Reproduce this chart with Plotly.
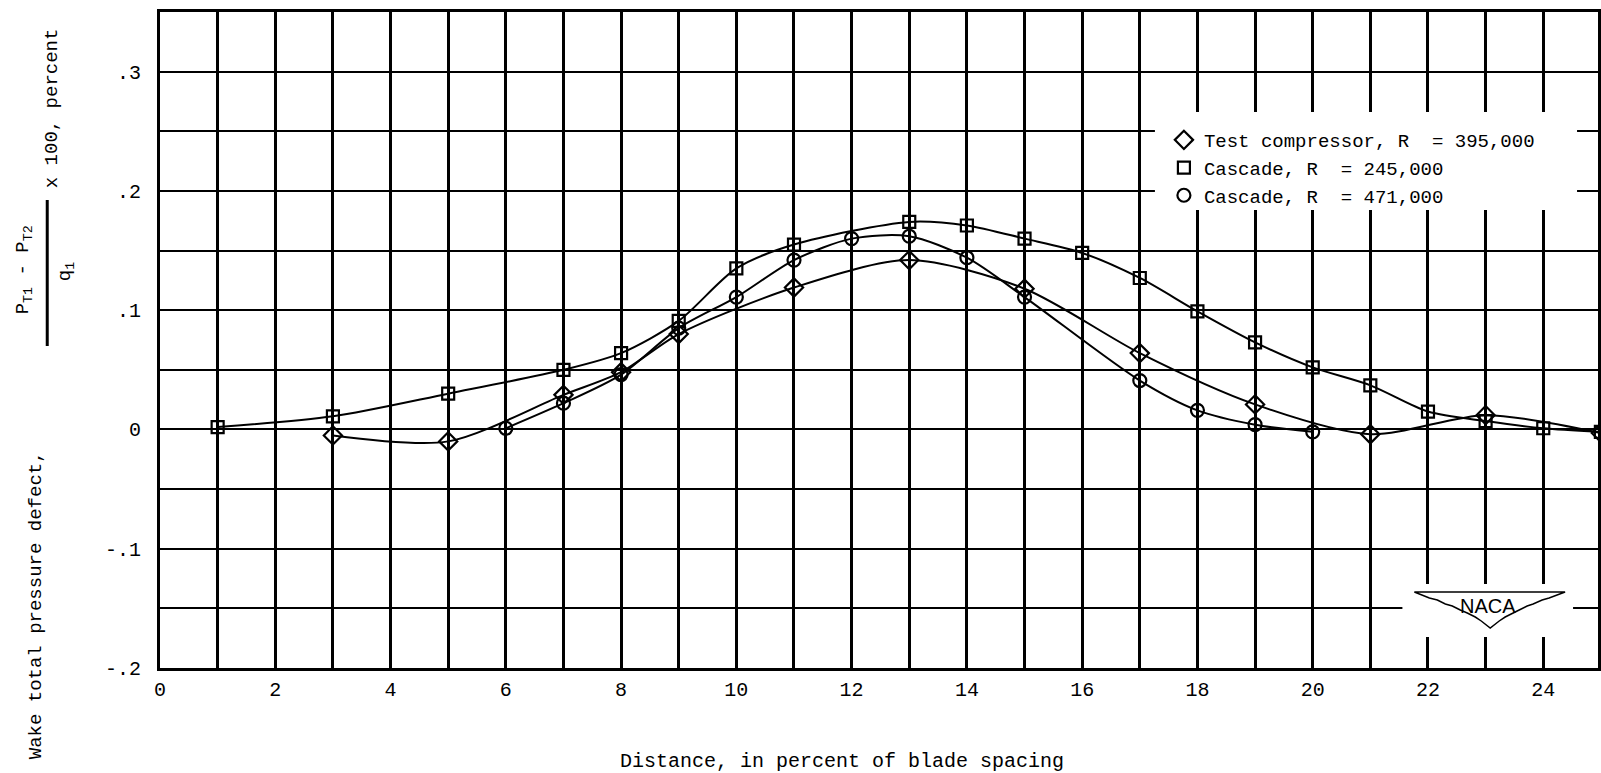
import plotly.graph_objects as go

# ---- data ----
test_x = [3, 5, 7, 8, 9, 11, 13, 15, 17, 19, 21, 23, 25]
test_y = [-0.005, -0.010, 0.029, 0.048, 0.080, 0.119, 0.142, 0.118, 0.064, 0.021, -0.004, 0.012, -0.003]

c245_x = [1, 3, 5, 7, 8, 9, 10, 11, 13, 14, 15, 16, 17, 18, 19, 20, 21, 22, 23, 24, 25]
c245_y = [0.002, 0.011, 0.030, 0.050, 0.064, 0.091, 0.135, 0.155, 0.174, 0.171, 0.160, 0.148,
          0.127, 0.099, 0.073, 0.052, 0.037, 0.015, 0.007, 0.001, -0.002]

c471_x = [6, 7, 8, 9, 10, 11, 12, 13, 14, 15, 17, 18, 19, 20]
c471_y = [0.001, 0.022, 0.046, 0.085, 0.111, 0.142, 0.160, 0.162, 0.144, 0.111, 0.041, 0.016, 0.004, -0.002]

x_tickvals = [0, 2, 4, 6, 8, 10, 12, 14, 16, 18, 20, 22, 24]
x_ticktext = ["0", "2", "4", "6", "8", "10", "12", "14", "16", "18", "20", "22", "24"]
y_tickvals = [-0.2, -0.1, 0, 0.1, 0.2, 0.3]
y_ticktext = ["-.2", "-.1", "0", ".1", ".2", ".3"]

names = ["Test compressor, R  = 395,000", "Cascade, R  = 245,000", "Cascade, R  = 471,000"]

FONT = "Liberation Mono"
W, H = 1601, 773
ML, MR, MT, MB = 160, 0, 12, 105
PW, PH = W - ML - MR, H - MT - MB


def px(xp):
    return (xp - ML) / PW


def py(yp):
    return (H - MB - yp) / PH


fig = go.Figure()
series = [(test_x, test_y, "diamond-open", 14), (c245_x, c245_y, "square-open", 12), (c471_x, c471_y, "circle-open", 13)]
for (xs, ys, sym, sz), nm in zip(series, names):
    fig.add_trace(go.Scatter(
        x=xs, y=ys, mode="lines+markers", name=nm, showlegend=False,
        line=dict(color="black", width=2, shape="spline", smoothing=0.8),
        marker=dict(symbol=sym, size=sz, color="black", line=dict(color="black", width=2.2)),
    ))
# legend entries (markers only, as in the reference key)
for (xs, ys, sym, sz), nm in zip(series, names):
    fig.add_trace(go.Scatter(
        x=[None], y=[None], mode="markers", name=nm, showlegend=True,
        marker=dict(symbol=sym, size=sz, color="black", line=dict(color="black", width=2.2)),
    ))

shapes = []
# white box behind legend
shapes.append(dict(type="rect", xref="paper", yref="paper", x0=px(1157), x1=px(1580), y0=py(210), y1=py(112),
                   fillcolor="white", line=dict(width=0), layer="above"))
# white box behind NACA logo
shapes.append(dict(type="rect", xref="paper", yref="paper", x0=px(1405), x1=px(1576), y0=py(637), y1=py(584),
                   fillcolor="white", line=dict(width=0), layer="above"))
# NACA wing outline
pts = [(1417, 592), (1568, 592), (1552, 598), (1545, 600), (1536, 604), (1530, 606), (1522, 610),
       (1516, 613), (1508, 617), (1502, 621), (1493, 628),
       (1484, 621), (1478, 617), (1470, 613), (1463, 610), (1455, 606), (1448, 604), (1440, 600), (1432, 598)]
path = "M " + " L ".join(f"{px(a):.5f},{py(b):.5f}" for a, b in pts) + " Z"
shapes.append(dict(type="path", xref="paper", yref="paper", path=path, fillcolor="white",
                   line=dict(color="black", width=1.5), layer="above"))
# fraction bar of y-axis title
shapes.append(dict(type="line", xref="paper", yref="paper", x0=px(47), x1=px(47), y0=py(200), y1=py(346),
                   line=dict(color="black", width=3)))

ann = [
    dict(text="Wake total pressure defect,", x=px(36), y=py(605), textangle=-90, font=dict(size=19)),
    dict(text="P<sub>T1</sub> - P<sub>T2</sub>", x=px(24), y=py(270), textangle=-90, font=dict(size=19)),
    dict(text="q<sub>1</sub>", x=px(66), y=py(272), textangle=-90, font=dict(size=19)),
    dict(text="x 100, percent", x=px(52), y=py(108), textangle=-90, font=dict(size=19)),
    dict(text="Distance, in percent of blade spacing", x=px(843), y=py(761), font=dict(size=20)),
    dict(text="NACA", x=px(1491), y=py(606), font=dict(size=20, family="Liberation Sans")),
]
for a in ann:
    a.update(xref="paper", yref="paper", showarrow=False, xanchor="center", yanchor="middle")
    a["font"] = dict(family=a["font"].get("family", FONT), size=a["font"]["size"], color="black")

fig.update_layout(
    width=W, height=H,
    margin=dict(l=ML, r=MR, t=MT, b=MB, pad=0),
    paper_bgcolor="white", plot_bgcolor="white",
    font=dict(family=FONT, size=18, color="black"),
    showlegend=True,
    legend=dict(x=px(1166), y=py(121), xanchor="left", yanchor="top", bgcolor="rgba(0,0,0,0)",
                font=dict(family=FONT, size=19, color="black"), borderwidth=0,
                tracegroupgap=0, itemwidth=30),
    shapes=shapes, annotations=ann,
)
fig.update_xaxes(
    range=[0, 24.95], tickvals=x_tickvals, ticktext=x_ticktext, ticks="", ticklabelstandoff=1,
    showgrid=True, gridcolor="black", gridwidth=2.5,
    minor=dict(dtick=1, tick0=0, showgrid=True, gridcolor="black", gridwidth=2.5),
    showline=True, linecolor="black", linewidth=3, mirror=True, zeroline=False,
    tickfont=dict(family=FONT, size=20, color="black"),
)
fig.update_yaxes(
    range=[-0.2, 0.35], tickvals=y_tickvals, ticktext=y_ticktext, ticks="", ticklabelstandoff=12,
    showgrid=True, gridcolor="black", gridwidth=2,
    minor=dict(dtick=0.05, tick0=0, showgrid=True, gridcolor="black", gridwidth=2),
    showline=True, linecolor="black", linewidth=3, mirror=True, zeroline=False,
    tickfont=dict(family=FONT, size=20, color="black"),
)

fig.write_html("out.html")
